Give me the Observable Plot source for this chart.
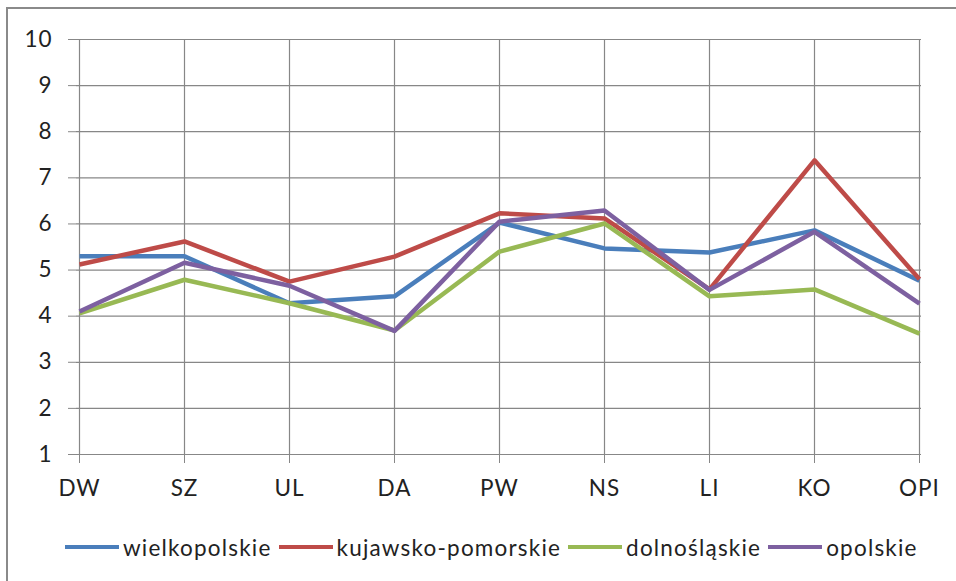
<!DOCTYPE html>
<html><head><meta charset="utf-8">
<script src="https://cdn.jsdelivr.net/npm/d3@7"></script>
<script src="https://cdn.jsdelivr.net/npm/@observablehq/plot@0.6"></script>
<style>
body{margin:0;background:#fff;width:956px;height:581px;overflow:hidden;position:relative;}
#frame{position:absolute;left:6px;top:7px;width:1100px;height:1000px;border:2.5px solid #8a8a8a;box-sizing:border-box;}
#chart{position:absolute;left:0;top:0;}
#chart svg text{letter-spacing:1px;}
#legend{position:absolute;left:65px;top:532px;height:30px;display:flex;align-items:center;white-space:nowrap;color:#222;letter-spacing:1.2px;}
#legend .sw{display:inline-block;width:54px;height:4px;margin-right:4px;}
#legend .lab{margin-right:7px;}
</style></head>
<body>
<div id="frame"></div>
<div id="chart"></div>
<div id="legend"></div>
<script>
const categories = ["DW","SZ","UL","DA","PW","NS","LI","KO","OPI"];
const seriesNames = ["wielkopolskie","kujawsko-pomorskie","dolnośląskie","opolskie"];
const wielkopolskie = [5.3,5.3,4.28,4.43,6.03,5.47,5.38,5.86,4.77];
const kujawskoPomorskie = [5.12,5.62,4.75,5.29,6.23,6.12,4.58,7.38,4.8];
const dolnoslaskie = [4.06,4.79,4.28,3.69,5.4,6.01,4.43,4.58,3.62];
const opolskie = [4.1,5.16,4.66,3.68,6.05,6.29,4.57,5.83,4.27];
const yTicks = [1,2,3,4,5,6,7,8,9,10];
const colors = ["#4a7ebb","#be4b48","#98b954","#7d60a0"];

const FONT = "Lato";
const FS = 22.5;

const seriesValues = [wielkopolskie,kujawskoPomorskie,dolnoslaskie,opolskie];
const data = [];
seriesNames.forEach((s,i)=>categories.forEach((c,j)=>data.push({series:s,cat:c,value:seriesValues[i][j]})));

const chart = Plot.plot({
  width:956, height:512,
  marginLeft:76, marginRight:35, marginTop:39, marginBottom:58,
  style:{fontFamily:FONT, fontSize:FS+"px", color:"#222", background:"transparent", overflow:"visible"},
  x:{type:"point", domain:categories, padding:0, label:null},
  y:{domain:[1,10], label:null},
  color:{domain:seriesNames, range:colors},
  marks:[
    Plot.gridY(yTicks,{stroke:"#878787", strokeOpacity:1, strokeWidth:1.2}),
    Plot.gridX(categories,{stroke:"#878787", strokeOpacity:1, strokeWidth:1.2}),
    Plot.axisY(yTicks,{tickSize:8, tickPadding:16, stroke:"#878787", fill:"#222", label:null}),
    Plot.axisX(categories,{tickSize:9, tickPadding:17, stroke:"#878787", fill:"#222", label:null}),
    Plot.line(data,{x:"cat", y:"value", stroke:"series", z:"series", strokeWidth:4.5, strokeLinejoin:"round", strokeLinecap:"butt"})
  ]
});
document.getElementById("chart").appendChild(chart);

const leg = document.getElementById("legend");
leg.style.fontFamily = FONT; leg.style.fontSize = FS+"px";
seriesNames.forEach((s,i)=>{
  const sw=document.createElement("span"); sw.className="sw"; sw.style.background=colors[i]; leg.appendChild(sw);
  const t=document.createElement("span"); t.className="lab"; t.textContent=s; leg.appendChild(t);
});
</script>
</body></html>
